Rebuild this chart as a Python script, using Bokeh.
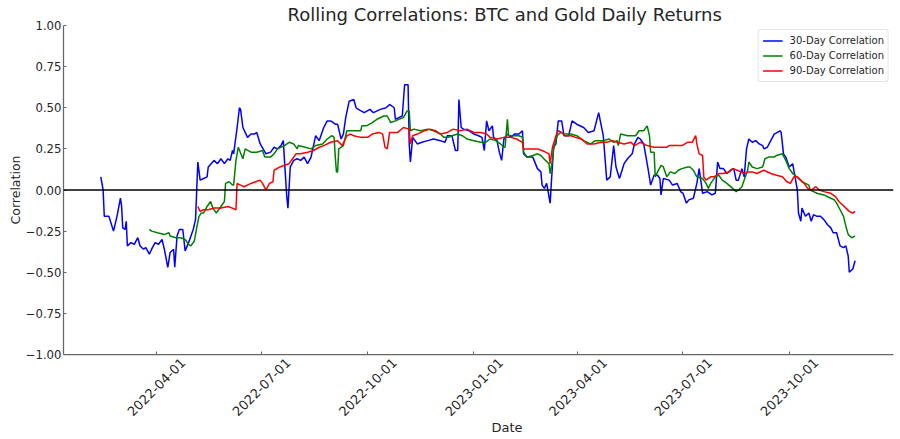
import pandas as pd
from math import pi
from bokeh.plotting import figure
from bokeh.models import (Range1d, FixedTicker, Span, Legend, LegendItem, Title,
                          CustomJSTickFormatter, DatetimeAxis)
from bokeh.embed import file_html
from bokeh.resources import INLINE

# ---------------- data ----------------
dates_30 = [
    "2022-02-12", "2022-02-14", "2022-02-15", "2022-02-19", "2022-02-23", "2022-02-26", "2022-03-01", "2022-03-02",
    "2022-03-03", "2022-03-05", "2022-03-06", "2022-03-07", "2022-03-10", "2022-03-13", "2022-03-16", "2022-03-18",
    "2022-03-21", "2022-03-23", "2022-03-26", "2022-03-28", "2022-03-31", "2022-04-03", "2022-04-06", "2022-04-08",
    "2022-04-11", "2022-04-13", "2022-04-16", "2022-04-17", "2022-04-19", "2022-04-21", "2022-04-24", "2022-04-26",
    "2022-04-29", "2022-05-02", "2022-05-03", "2022-05-05", "2022-05-07", "2022-05-09", "2022-05-12", "2022-05-15",
    "2022-05-16", "2022-05-21", "2022-05-24", "2022-05-27", "2022-05-30", "2022-06-02", "2022-06-04", "2022-06-06",
    "2022-06-07", "2022-06-10", "2022-06-12", "2022-06-13", "2022-06-15", "2022-06-19", "2022-06-22", "2022-06-25",
    "2022-06-27", "2022-06-30", "2022-07-05", "2022-07-09", "2022-07-12", "2022-07-15", "2022-07-18", "2022-07-20",
    "2022-07-21", "2022-07-23", "2022-07-24", "2022-07-26", "2022-07-29", "2022-08-01", "2022-08-04", "2022-08-07",
    "2022-08-10", "2022-08-13", "2022-08-17", "2022-08-20", "2022-08-24", "2022-08-27", "2022-08-30", "2022-09-03",
    "2022-09-05", "2022-09-08", "2022-09-10", "2022-09-12", "2022-09-15", "2022-09-19", "2022-09-21", "2022-09-23",
    "2022-09-28", "2022-10-03", "2022-10-06", "2022-10-12", "2022-10-17", "2022-10-20", "2022-10-24", "2022-10-25",
    "2022-10-28", "2022-10-31", "2022-11-02", "2022-11-05", "2022-11-06", "2022-11-07", "2022-11-09", "2022-11-13",
    "2022-11-17", "2022-11-22", "2022-11-27", "2022-12-03", "2022-12-07", "2022-12-09", "2022-12-13", "2022-12-16",
    "2022-12-18", "2022-12-19", "2022-12-21", "2022-12-23", "2022-12-28", "2023-01-01", "2023-01-05", "2023-01-08",
    "2023-01-10", "2023-01-12", "2023-01-14", "2023-01-17", "2023-01-18", "2023-01-21", "2023-01-23", "2023-01-25",
    "2023-01-27", "2023-01-30", "2023-02-02", "2023-02-05", "2023-02-09", "2023-02-12", "2023-02-13", "2023-02-16",
    "2023-02-21", "2023-02-25", "2023-02-28", "2023-03-01", "2023-03-03", "2023-03-05", "2023-03-08", "2023-03-09",
    "2023-03-11", "2023-03-13", "2023-03-15", "2023-03-18", "2023-03-20", "2023-03-24", "2023-03-27", "2023-03-31",
    "2023-04-06", "2023-04-10", "2023-04-15", "2023-04-19", "2023-04-21", "2023-04-23", "2023-04-26", "2023-04-29",
    "2023-05-02", "2023-05-04", "2023-05-07", "2023-05-11", "2023-05-14", "2023-05-18", "2023-05-20", "2023-05-23",
    "2023-05-25", "2023-05-28", "2023-05-30", "2023-06-01", "2023-06-03", "2023-06-06", "2023-06-09", "2023-06-11",
    "2023-06-12", "2023-06-14", "2023-06-19", "2023-06-22", "2023-06-26", "2023-06-29", "2023-07-01", "2023-07-04",
    "2023-07-06", "2023-07-10", "2023-07-13", "2023-07-15", "2023-07-16", "2023-07-18", "2023-07-22", "2023-07-26",
    "2023-07-29", "2023-07-31", "2023-08-02", "2023-08-05", "2023-08-08", "2023-08-11", "2023-08-14", "2023-08-16",
    "2023-08-18", "2023-08-21", "2023-08-23", "2023-08-25", "2023-08-27", "2023-08-30", "2023-09-02", "2023-09-05",
    "2023-09-08", "2023-09-09", "2023-09-12", "2023-09-15", "2023-09-18", "2023-09-23", "2023-09-24", "2023-09-26",
    "2023-09-28", "2023-10-01", "2023-10-04", "2023-10-05", "2023-10-06", "2023-10-08", "2023-10-09", "2023-10-11",
    "2023-10-12", "2023-10-15", "2023-10-18", "2023-10-20", "2023-10-22", "2023-10-25", "2023-10-28", "2023-10-31",
    "2023-11-03", "2023-11-06", "2023-11-08", "2023-11-11", "2023-11-14", "2023-11-17", "2023-11-19", "2023-11-21",
    "2023-11-22", "2023-11-25", "2023-11-27",
]
corr_30 = [
    0.08, 0.00, -0.16, -0.16, -0.25, -0.16, -0.05, -0.10,
    -0.23, -0.24, -0.19, -0.34, -0.32, -0.33, -0.29, -0.34,
    -0.36, -0.35, -0.39, -0.36, -0.32, -0.33, -0.30, -0.36,
    -0.47, -0.38, -0.36, -0.47, -0.28, -0.24, -0.24, -0.37,
    -0.32, -0.26, -0.24, -0.18, 0.17, 0.06, 0.07, 0.08,
    0.14, 0.18, 0.16, 0.19, 0.16, 0.19, 0.18, 0.24,
    0.22, 0.38, 0.50, 0.49, 0.38, 0.32, 0.34, 0.34,
    0.35, 0.28, 0.22, 0.23, 0.26, 0.25, 0.27, 0.30,
    0.18, -0.04, -0.11, 0.14, 0.18, 0.19, 0.18, 0.20,
    0.16, 0.20, 0.33, 0.30, 0.38, 0.42, 0.42, 0.40,
    0.40, 0.31, 0.34, 0.44, 0.54, 0.55, 0.50, 0.49,
    0.47, 0.49, 0.47, 0.49, 0.50, 0.52, 0.50, 0.43,
    0.44, 0.45, 0.64, 0.64, 0.28, 0.17, 0.32, 0.28,
    0.29, 0.30, 0.31, 0.30, 0.29, 0.33, 0.33, 0.24,
    0.24, 0.55, 0.38, 0.37, 0.36, 0.34, 0.33, 0.32,
    0.24, 0.42, 0.36, 0.39, 0.32, 0.30, 0.23, 0.18,
    0.31, 0.34, 0.32, 0.34, 0.34, 0.36, 0.22, 0.20,
    0.20, 0.13, 0.11, 0.03, 0.01, 0.04, -0.08, 0.04,
    0.26, 0.28, 0.42, 0.42, 0.33, 0.33, 0.42, 0.40,
    0.38, 0.35, 0.36, 0.47, 0.40, 0.33, 0.06, 0.08,
    0.27, 0.14, 0.07, 0.16, 0.19, 0.22, 0.28, 0.32,
    0.31, 0.28, 0.20, 0.12, 0.03, 0.09, 0.09, 0.07,
    -0.03, 0.07, 0.06, 0.03, 0.04, -0.01, -0.02, -0.08,
    -0.06, -0.05, 0.04, 0.13, 0.08, -0.02, -0.01, -0.03,
    -0.02, 0.17, 0.13, 0.13, 0.10, 0.12, 0.13, 0.06,
    0.06, 0.13, 0.08, 0.25, 0.31, 0.29, 0.30, 0.28,
    0.27, 0.25, 0.26, 0.30, 0.34, 0.36, 0.35, 0.22,
    0.20, 0.14, 0.16, 0.12, 0.08, 0.00, -0.14, -0.19,
    -0.11, -0.16, -0.14, -0.19, -0.15, -0.16, -0.16, -0.18,
    -0.21, -0.23, -0.26, -0.26, -0.34, -0.35, -0.34, -0.40,
    -0.50, -0.48, -0.43,
]

dates_60 = [
    "2022-03-26", "2022-03-28", "2022-04-02", "2022-04-08", "2022-04-12", "2022-04-13", "2022-04-18", "2022-04-22",
    "2022-04-26", "2022-04-29", "2022-05-01", "2022-05-04", "2022-05-06", "2022-05-08", "2022-05-10", "2022-05-12",
    "2022-05-15", "2022-05-18", "2022-05-20", "2022-05-23", "2022-05-27", "2022-05-30", "2022-05-31", "2022-06-03",
    "2022-06-06", "2022-06-07", "2022-06-09", "2022-06-11", "2022-06-15", "2022-06-17", "2022-06-22", "2022-06-27",
    "2022-07-02", "2022-07-04", "2022-07-09", "2022-07-12", "2022-07-15", "2022-07-21", "2022-07-25", "2022-07-29",
    "2022-08-01", "2022-08-02", "2022-08-08", "2022-08-13", "2022-08-17", "2022-08-23", "2022-08-27", "2022-08-31",
    "2022-09-02", "2022-09-03", "2022-09-04", "2022-09-05", "2022-09-06", "2022-09-10", "2022-09-13", "2022-09-19",
    "2022-09-25", "2022-09-26", "2022-09-30", "2022-10-05", "2022-10-09", "2022-10-15", "2022-10-18", "2022-10-21",
    "2022-10-25", "2022-10-28", "2022-11-01", "2022-11-04", "2022-11-06", "2022-11-07", "2022-11-10", "2022-11-16",
    "2022-11-22", "2022-11-27", "2022-12-03", "2022-12-06", "2022-12-10", "2022-12-13", "2022-12-18", "2022-12-22",
    "2022-12-26", "2023-01-01", "2023-01-07", "2023-01-11", "2023-01-15", "2023-01-20", "2023-01-24", "2023-01-27",
    "2023-01-28", "2023-01-30", "2023-01-31", "2023-02-03", "2023-02-09", "2023-02-12", "2023-02-13", "2023-02-16",
    "2023-02-21", "2023-02-25", "2023-02-28", "2023-03-04", "2023-03-07", "2023-03-08", "2023-03-10", "2023-03-11",
    "2023-03-14", "2023-03-17", "2023-03-20", "2023-03-26", "2023-03-31", "2023-04-06", "2023-04-12", "2023-04-16",
    "2023-04-23", "2023-04-28", "2023-05-02", "2023-05-05", "2023-05-06", "2023-05-08", "2023-05-14", "2023-05-21",
    "2023-05-24", "2023-05-28", "2023-05-31", "2023-06-02", "2023-06-03", "2023-06-06", "2023-06-07", "2023-06-09",
    "2023-06-12", "2023-06-14", "2023-06-17", "2023-06-20", "2023-06-24", "2023-06-27", "2023-06-30", "2023-07-05",
    "2023-07-07", "2023-07-10", "2023-07-13", "2023-07-18", "2023-07-21", "2023-07-23", "2023-07-25", "2023-07-29",
    "2023-08-01", "2023-08-04", "2023-08-08", "2023-08-13", "2023-08-16", "2023-08-18", "2023-08-21", "2023-08-24",
    "2023-08-26", "2023-08-27", "2023-08-30", "2023-09-03", "2023-09-08", "2023-09-10", "2023-09-13", "2023-09-18",
    "2023-09-20", "2023-09-25", "2023-09-28", "2023-10-01", "2023-10-04", "2023-10-06", "2023-10-09", "2023-10-12",
    "2023-10-15", "2023-10-18", "2023-10-19", "2023-10-22", "2023-10-25", "2023-10-31", "2023-11-06", "2023-11-09",
    "2023-11-11", "2023-11-14", "2023-11-17", "2023-11-19", "2023-11-21", "2023-11-24", "2023-11-27",
]
corr_60 = [
    -0.24, -0.25, -0.26, -0.27, -0.26, -0.28, -0.29, -0.29,
    -0.30, -0.33, -0.34, -0.31, -0.23, -0.16, -0.14, -0.14,
    -0.10, -0.07, -0.11, -0.14, -0.10, -0.07, 0.04, 0.05,
    0.03, 0.03, 0.18, 0.26, 0.19, 0.25, 0.23, 0.23,
    0.24, 0.20, 0.20, 0.22, 0.25, 0.27, 0.29, 0.28,
    0.25, 0.27, 0.26, 0.25, 0.27, 0.28, 0.31, 0.33,
    0.32, 0.20, 0.11, 0.11, 0.25, 0.27, 0.36, 0.36,
    0.36, 0.39, 0.39, 0.41, 0.43, 0.45, 0.45, 0.41,
    0.42, 0.43, 0.44, 0.48, 0.48, 0.36, 0.37, 0.36,
    0.37, 0.36, 0.34, 0.32, 0.32, 0.33, 0.34, 0.33,
    0.31, 0.30, 0.29, 0.29, 0.31, 0.30, 0.28, 0.26,
    0.26, 0.43, 0.33, 0.33, 0.33, 0.32, 0.23, 0.20,
    0.21, 0.22, 0.21, 0.18, 0.16, 0.10, 0.18, 0.25,
    0.33, 0.35, 0.34, 0.34, 0.33, 0.30, 0.28, 0.30,
    0.30, 0.31, 0.29, 0.30, 0.27, 0.34, 0.33, 0.33,
    0.36, 0.36, 0.39, 0.33, 0.23, 0.23, 0.08, 0.11,
    0.15, 0.14, 0.08, 0.11, 0.10, 0.12, 0.13, 0.14,
    0.14, 0.12, 0.08, 0.07, 0.04, 0.01, 0.04, 0.08,
    0.09, 0.06, 0.04, 0.01, -0.01, 0.00, 0.02, 0.08,
    0.12, 0.17, 0.14, 0.13, 0.14, 0.19, 0.20, 0.20,
    0.21, 0.22, 0.18, 0.13, 0.10, 0.09, 0.07, 0.05,
    0.04, 0.03, 0.00, -0.01, -0.02, -0.03, -0.05, -0.06,
    -0.08, -0.12, -0.16, -0.22, -0.27, -0.29, -0.28,
]

dates_90 = [
    "2022-05-07", "2022-05-09", "2022-05-12", "2022-05-16", "2022-05-21", "2022-05-27", "2022-06-02", "2022-06-06",
    "2022-06-09", "2022-06-10", "2022-06-13", "2022-06-16", "2022-06-22", "2022-06-26", "2022-06-30", "2022-07-02",
    "2022-07-05", "2022-07-08", "2022-07-11", "2022-07-12", "2022-07-17", "2022-07-21", "2022-07-25", "2022-07-28",
    "2022-07-31", "2022-08-04", "2022-08-10", "2022-08-15", "2022-08-20", "2022-08-24", "2022-08-30", "2022-09-05",
    "2022-09-09", "2022-09-13", "2022-09-16", "2022-09-19", "2022-09-25", "2022-10-01", "2022-10-05", "2022-10-11",
    "2022-10-14", "2022-10-16", "2022-10-18", "2022-10-20", "2022-10-27", "2022-11-01", "2022-11-06", "2022-11-07",
    "2022-11-09", "2022-11-13", "2022-11-19", "2022-11-24", "2022-11-29", "2022-12-03", "2022-12-09", "2022-12-14",
    "2022-12-20", "2022-12-26", "2023-01-01", "2023-01-07", "2023-01-12", "2023-01-15", "2023-01-21", "2023-01-27",
    "2023-02-02", "2023-02-07", "2023-02-12", "2023-02-13", "2023-02-19", "2023-02-25", "2023-03-01", "2023-03-04",
    "2023-03-07", "2023-03-08", "2023-03-10", "2023-03-13", "2023-03-15", "2023-03-18", "2023-03-21", "2023-03-26",
    "2023-03-30", "2023-04-04", "2023-04-09", "2023-04-15", "2023-04-21", "2023-04-26", "2023-05-01", "2023-05-05",
    "2023-05-11", "2023-05-17", "2023-05-20", "2023-05-25", "2023-05-31", "2023-06-06", "2023-06-12", "2023-06-17",
    "2023-06-19", "2023-06-24", "2023-06-30", "2023-07-05", "2023-07-09", "2023-07-12", "2023-07-13", "2023-07-15",
    "2023-07-18", "2023-07-19", "2023-07-21", "2023-07-23", "2023-07-25", "2023-07-28", "2023-08-01", "2023-08-05",
    "2023-08-10", "2023-08-13", "2023-08-17", "2023-08-20", "2023-08-23", "2023-08-27", "2023-08-30", "2023-09-03",
    "2023-09-09", "2023-09-15", "2023-09-20", "2023-09-25", "2023-09-29", "2023-10-02", "2023-10-05", "2023-10-08",
    "2023-10-11", "2023-10-14", "2023-10-17", "2023-10-20", "2023-10-24", "2023-10-27", "2023-10-31", "2023-11-06",
    "2023-11-10", "2023-11-13", "2023-11-16", "2023-11-19", "2023-11-22", "2023-11-25", "2023-11-27",
]
corr_90 = [
    -0.10, -0.13, -0.12, -0.12, -0.11, -0.11, -0.10, -0.11,
    -0.12, 0.04, 0.03, 0.02, 0.04, 0.05, 0.06, 0.04,
    0.00, 0.04, 0.05, 0.12, 0.14, 0.15, 0.16, 0.19,
    0.22, 0.22, 0.23, 0.24, 0.26, 0.27, 0.29, 0.30,
    0.27, 0.33, 0.34, 0.33, 0.32, 0.32, 0.34, 0.35,
    0.34, 0.26, 0.25, 0.35, 0.35, 0.38, 0.37, 0.28,
    0.33, 0.34, 0.36, 0.37, 0.36, 0.34, 0.35, 0.37,
    0.36, 0.37, 0.35, 0.35, 0.34, 0.32, 0.31, 0.32,
    0.32, 0.31, 0.29, 0.25, 0.25, 0.25, 0.24, 0.23,
    0.22, 0.16, 0.26, 0.33, 0.36, 0.35, 0.33, 0.33,
    0.32, 0.31, 0.28, 0.28, 0.29, 0.29, 0.30, 0.29,
    0.28, 0.29, 0.27, 0.29, 0.27, 0.26, 0.26, 0.26,
    0.27, 0.27, 0.27, 0.29, 0.29, 0.33, 0.28, 0.22,
    0.21, 0.08, 0.06, 0.07, 0.08, 0.08, 0.10, 0.10,
    0.11, 0.13, 0.12, 0.11, 0.10, 0.11, 0.11, 0.10,
    0.12, 0.10, 0.09, 0.08, 0.05, 0.04, 0.08, 0.08,
    0.06, 0.04, 0.01, 0.00, 0.02, 0.00, -0.01, -0.02,
    -0.04, -0.07, -0.09, -0.11, -0.13, -0.14, -0.13,
]

series_labels = ["30-Day Correlation", "60-Day Correlation", "90-Day Correlation"]
series_colors = ["blue", "green", "red"]
x_tick_labels = ["2022-04-01", "2022-07-01", "2022-10-01", "2023-01-01",
                 "2023-04-01", "2023-07-01", "2023-10-01"]
y_ticks = [-1.0, -0.75, -0.5, -0.25, 0.0, 0.25, 0.5, 0.75, 1.0]
title_text = "Rolling Correlations: BTC and Gold Daily Returns"
x_label_text = "Date"
y_label_text = "Correlation"

# ---------------- figure ----------------
FONT = "DejaVu Sans"
TEXT = "#262626"
AXIS = "#666666"


def ms(t):
    return pd.Timestamp(t).value / 1e6


PX_PER_DAY = 1.1551
x_start = pd.Timestamp("2022-04-01") - pd.Timedelta(days=80.3)
x_end = x_start + pd.Timedelta(days=830 / PX_PER_DAY)
# rotated labels are centred under their tick in the reference: shift the label axis
label_shift = pd.Timedelta(days=27 / PX_PER_DAY)

p = figure(width=900, height=439, x_axis_type="datetime",
           x_range=Range1d(ms(x_start), ms(x_end)), y_range=Range1d(-1, 1),
           output_backend="svg", toolbar_location=None,
           min_border_left=63, min_border_right=7, min_border_top=25, min_border_bottom=85)
p.outline_line_color = None
p.background_fill_color = "white"
p.border_fill_color = "white"
p.grid.visible = False

# axes
p.xaxis.ticker = FixedTicker(ticks=[ms(t) for t in x_tick_labels], minor_ticks=[])
p.xaxis.formatter = CustomJSTickFormatter(code="return '';")
p.xaxis.major_label_standoff = 0
p.yaxis.ticker = FixedTicker(ticks=y_ticks, minor_ticks=[])
p.yaxis.formatter = CustomJSTickFormatter(code="return tick.toFixed(2).replace('-', '\u2212');")
for ax in (p.xaxis[0], p.yaxis[0]):
    ax.axis_line_color = AXIS
    ax.axis_line_width = 1.25
    ax.major_tick_line_color = AXIS
    ax.major_tick_in = 3
    ax.major_tick_out = 0
    ax.minor_tick_line_color = None
    ax.major_label_text_font = FONT
    ax.major_label_text_color = TEXT
    ax.major_label_text_font_size = "11.7px"
p.yaxis.major_label_standoff = 2
p.yaxis.axis_label = y_label_text
p.yaxis.axis_label_text_font = FONT
p.yaxis.axis_label_text_font_style = "normal"
p.yaxis.axis_label_text_font_size = "12.5px"
p.yaxis.axis_label_text_color = TEXT
p.yaxis.axis_label_standoff = 0

# axis carrying the rotated date labels
p.extra_x_ranges = {"labels": Range1d(ms(x_start - label_shift), ms(x_end - label_shift))}
lab_axis = DatetimeAxis(x_range_name="labels",
                        ticker=FixedTicker(ticks=[ms(t) for t in x_tick_labels], minor_ticks=[]),
                        formatter=CustomJSTickFormatter(code="return new Date(tick).toISOString().slice(0, 10);"),
                        axis_line_color=None, major_tick_line_color=None, minor_tick_line_color=None,
                        major_tick_in=0, major_tick_out=0, major_label_standoff=6,
                        major_label_orientation=pi / 4, major_label_text_font=FONT,
                        major_label_text_font_size="13px", major_label_text_color=TEXT)
p.add_layout(lab_axis, "below")

# lines
series = [(dates_30, corr_30), (dates_60, corr_60), (dates_90, corr_90)]
renderers = []
for (d, v), c in zip(series, series_colors):
    r = p.line(x=pd.to_datetime(d), y=v, line_color=c, line_width=1.5)
    renderers.append(r)

p.add_layout(Span(location=0, dimension="width", line_color="black", line_width=1.5))

legend = Legend(items=[LegendItem(label=l, renderers=[r]) for l, r in zip(series_labels, renderers)],
                location="top_right", margin=4, padding=4, spacing=2,
                label_text_font=FONT, label_text_font_size="10px", label_text_color=TEXT,
                label_height=13, glyph_height=13, glyph_width=20, label_standoff=7,
                border_line_color="#cccccc", border_line_width=1, border_radius=3,
                background_fill_color="white", background_fill_alpha=0.8)
p.add_layout(legend)

# title and x-axis label
p.add_layout(Title(text=title_text, align="left", offset=224, standoff=1,
                   text_font=FONT, text_font_size="18px", text_font_style="normal",
                   text_color=TEXT), "above")
p.add_layout(Title(text=x_label_text, align="left", offset=428, standoff=-12,
                   text_font=FONT, text_font_size="13px", text_font_style="normal",
                   text_color=TEXT), "below")

open("out.html", "w").write(file_html(p, INLINE))
